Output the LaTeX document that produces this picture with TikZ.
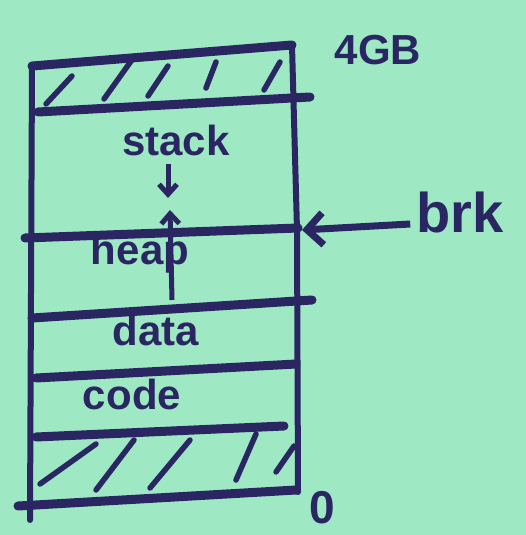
\documentclass[tikz,border=0pt]{standalone}
\usepackage{fontspec}
\setmainfont{Liberation Sans}
\usetikzlibrary{arrows.meta}
\definecolor{paper}{RGB}{158,232,196}
\definecolor{ink}{RGB}{42,38,98}
\begin{document}
\begin{tikzpicture}[x=1pt,y=-1pt,
  ink line/.style={draw=ink,line width=9pt,line cap=round},
  edge line/.style={draw=ink,line width=6pt,line cap=round},
  hatch/.style={draw=ink,line width=5.5pt,line cap=round},
  lbl/.style={text=ink,font=\fontsize{42}{44}\selectfont\bfseries,inner sep=0pt},
  growth/.style={draw=ink,line width=5pt,-{Straight Barb[length=10pt,width=18pt]}}]
\fill[paper] (0,0) rectangle (526,535);
\useasboundingbox (0,0) rectangle (526,535);
% corners
\coordinate (tl) at (32,66);
\coordinate (tr) at (292,45);
\coordinate (bl) at (30,520);
\coordinate (br) at (298,492);
% sides
\draw[edge line] (tl) -- (bl);
\draw[edge line] (tr) -- (297,230) -- (br);
% horizontal bands
\draw[ink line] (tl) -- (tr);
\coordinate (s1l) at (38,112); \coordinate (s1r) at (310,97);
\draw[ink line] (s1l) -- (s1r);
\coordinate (h1l) at (25,238); \coordinate (h1r) at (298,228);
\draw[ink line] (h1l) -- (h1r);
\coordinate (d1l) at (32,318); \coordinate (d1r) at (312,300);
\draw[ink line] (d1l) -- (d1r);
\coordinate (c1l) at (36,378); \coordinate (c1r) at (296,364);
\draw[ink line] (c1l) -- (c1r);
\coordinate (z1l) at (36,437); \coordinate (z1r) at (284,426);
\draw[ink line] (z1l) -- (z1r);
\coordinate (z2l) at (18,506); \coordinate (z2r) at (296,490);
\draw[ink line] (z2l) -- (z2r);
% top hatching
\draw[hatch] (46,104) -- (72,76);
\draw[hatch] (104,99) -- (134,57);
\draw[hatch] (148,96) -- (168,66);
\draw[hatch] (206,88) -- (216,62);
\draw[hatch] (264,90) -- (280,62);
% bottom hatching
\draw[hatch] (40,484) -- (96,444);
\draw[hatch] (96,490) -- (134,440);
\draw[hatch] (150,488) -- (190,440);
\draw[hatch] (236,480) -- (256,434);
\draw[hatch] (276,472) -- (294,446);
% labels
\node[lbl] (stack) at (176,140) {stack};
\node[lbl] (heap) at (140,254) {heap};
\node[lbl] (data) at (156,330) {data};
\node[lbl] (code) at (132,394) {code};
\node[lbl,font=\fontsize{42}{44}\selectfont\bfseries] (gb) at (378,50) {4GB};
\node[lbl,font=\fontsize{56}{58}\selectfont\bfseries] (brk) at (460,212) {brk};
\node[lbl,font=\fontsize{46}{48}\selectfont\bfseries] (zero) at (322,508) {0};
% growth arrows
\coordinate (sa) at (168,164); \coordinate (sb) at (168,198);
\draw[growth] (sa) -- (sb);
\coordinate (ha) at (172,300); \coordinate (hb) at (170,210);
\draw[growth] (ha) -- (hb);
% brk pointer
\coordinate (bp) at (302,230);
\draw[draw=ink,line width=7pt,-{Straight Barb[length=16pt,width=32pt]}] (brk.west) ++(-6,12) -- (bp);
\end{tikzpicture}
\end{document}
